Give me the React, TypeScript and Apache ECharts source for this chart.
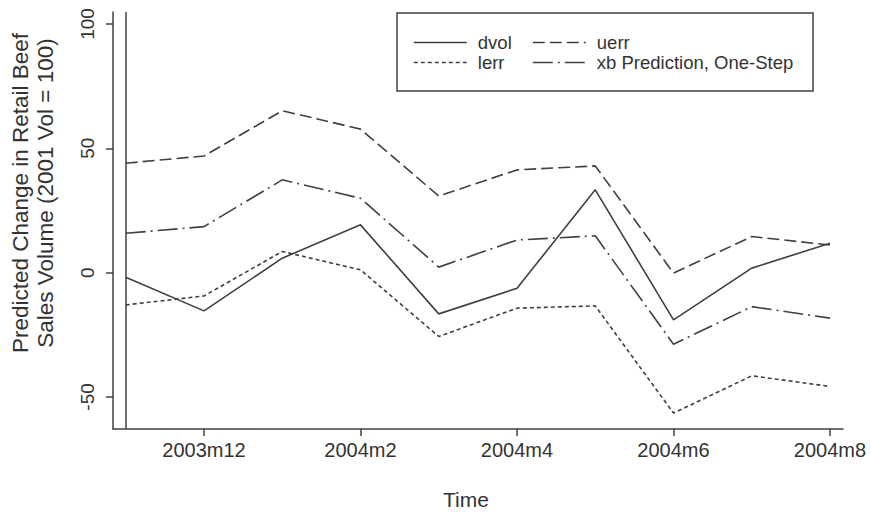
import React, { useEffect, useRef } from "react";
import * as echarts from "echarts";

const months = ["2003m11", "2003m12", "2004m1", "2004m2", "2004m3", "2004m4", "2004m5", "2004m6", "2004m7", "2004m8"];
const tickIdx = [1, 3, 5, 7, 9];
const yTicks = [-50, 0, 50, 100];

const dvol = [-1.9, -15.4, 5.8, 19.2, -16.6, -6.3, 33.3, -19.0, 1.8, 11.8];
const uerr = [44.0, 46.9, 65.1, 57.7, 30.8, 41.3, 42.9, -0.2, 14.5, 11.1];
const lerr = [-13.0, -9.4, 8.5, 1.1, -25.7, -14.3, -13.4, -56.5, -41.5, -45.8];
const xb = [15.8, 18.5, 37.3, 29.9, 2.2, 13.1, 14.8, -28.8, -13.7, -18.3];

const FONT = "'Liberation Sans', Arial, Helvetica, sans-serif";
const INK = "#404040";
const TXT = "#333";

const DASH: Record<string, any> = {
  dvol: "solid",
  uerr: [12, 5],
  lerr: [4, 3],
  "xb Prediction, One-Step": [20, 5, 2, 5],
};

export default function App() {
  const ref = useRef<HTMLDivElement>(null);
  useEffect(() => {
    if (!ref.current) return;
    const chart = echarts.init(ref.current, null, { renderer: "svg" });
    const toPts = (arr: number[]) => arr.map((v, i) => [i, v]);
    const mk = (name: string, arr: number[], extra: any = {}) => ({
      name,
      type: "line",
      data: toPts(arr),
      symbol: "none",
      showSymbol: false,
      lineStyle: { color: INK, width: 1.6, type: DASH[name] },
      itemStyle: { color: INK },
      ...extra,
    });
    const legendBase = (name: string, left: number, top: number) => ({
      data: [name],
      left,
      top,
      orient: "horizontal",
      selectedMode: false,
      itemWidth: 53,
      itemHeight: 14,
      padding: 0,
      itemStyle: { opacity: 0 },
      lineStyle: { color: INK, width: 1.6, type: DASH[name], opacity: 1 },
      textStyle: { fontFamily: FONT, fontSize: 18.5, color: TXT, padding: [0, 0, 0, 6] },
    });
    chart.setOption({
      animation: false,
      backgroundColor: "#fff",
      grid: { left: 113, right: 28, top: 12, bottom: 85, containLabel: false },
      xAxis: {
        type: "value",
        min: -0.163,
        max: 9.166,
        axisLine: { show: true, onZero: false, lineStyle: { color: INK, width: 1.5 } },
        axisTick: { show: true, customValues: tickIdx, length: 7, lineStyle: { color: INK, width: 1.5 } },
        axisLabel: {
          customValues: tickIdx,
          formatter: (v: number) => months[Math.round(v)],
          fontFamily: FONT,
          fontSize: 20,
          color: TXT,
          margin: 11,
        },
        splitLine: { show: false },
      },
      yAxis: {
        type: "value",
        min: -62.9,
        max: 104.8,
        axisLine: { show: true, onZero: false, lineStyle: { color: INK, width: 1.5 } },
        axisTick: { show: true, customValues: yTicks, length: 7, lineStyle: { color: INK, width: 1.5 } },
        axisLabel: {
          customValues: yTicks,
          rotate: 90,
          fontFamily: FONT,
          fontSize: 19,
          color: TXT,
          margin: 16,
        },
        splitLine: { show: false },
      },
      legend: [
        legendBase("dvol", 413, 33),
        legendBase("uerr", 532, 33),
        legendBase("lerr", 413, 53),
        legendBase("xb Prediction, One-Step", 532, 53),
      ],
      series: [
        mk("dvol", dvol, {
          markLine: {
            silent: true,
            symbol: ["none", "none"],
            label: { show: false },
            lineStyle: { color: INK, width: 1.5, type: "solid" },
            data: [{ xAxis: 0 }],
          },
        }),
        mk("uerr", uerr),
        mk("lerr", lerr),
        mk("xb Prediction, One-Step", xb),
      ],
      graphic: [
        {
          type: "rect",
          shape: { x: 397, y: 13, width: 416, height: 78 },
          style: { fill: "none", stroke: INK, lineWidth: 1.5 },
          silent: true,
        },
        {
          type: "text",
          x: 466,
          y: 499,
          style: { text: "Time", font: `21px ${FONT}`, fill: TXT, align: "center", verticalAlign: "middle" },
        },
        {
          type: "text",
          x: 33,
          y: 193,
          rotation: Math.PI / 2,
          style: {
            text: "Predicted Change in Retail Beef\nSales Volume (2001 Vol = 100)",
            font: `22.5px ${FONT}`,
            lineHeight: 25,
            fill: TXT,
            align: "center",
            verticalAlign: "middle",
          },
        },
      ],
    });
    return () => chart.dispose();
  }, []);
  return <div ref={ref} style={{ position: "fixed", left: 0, top: 0, width: 871, height: 514 }} />;
}
